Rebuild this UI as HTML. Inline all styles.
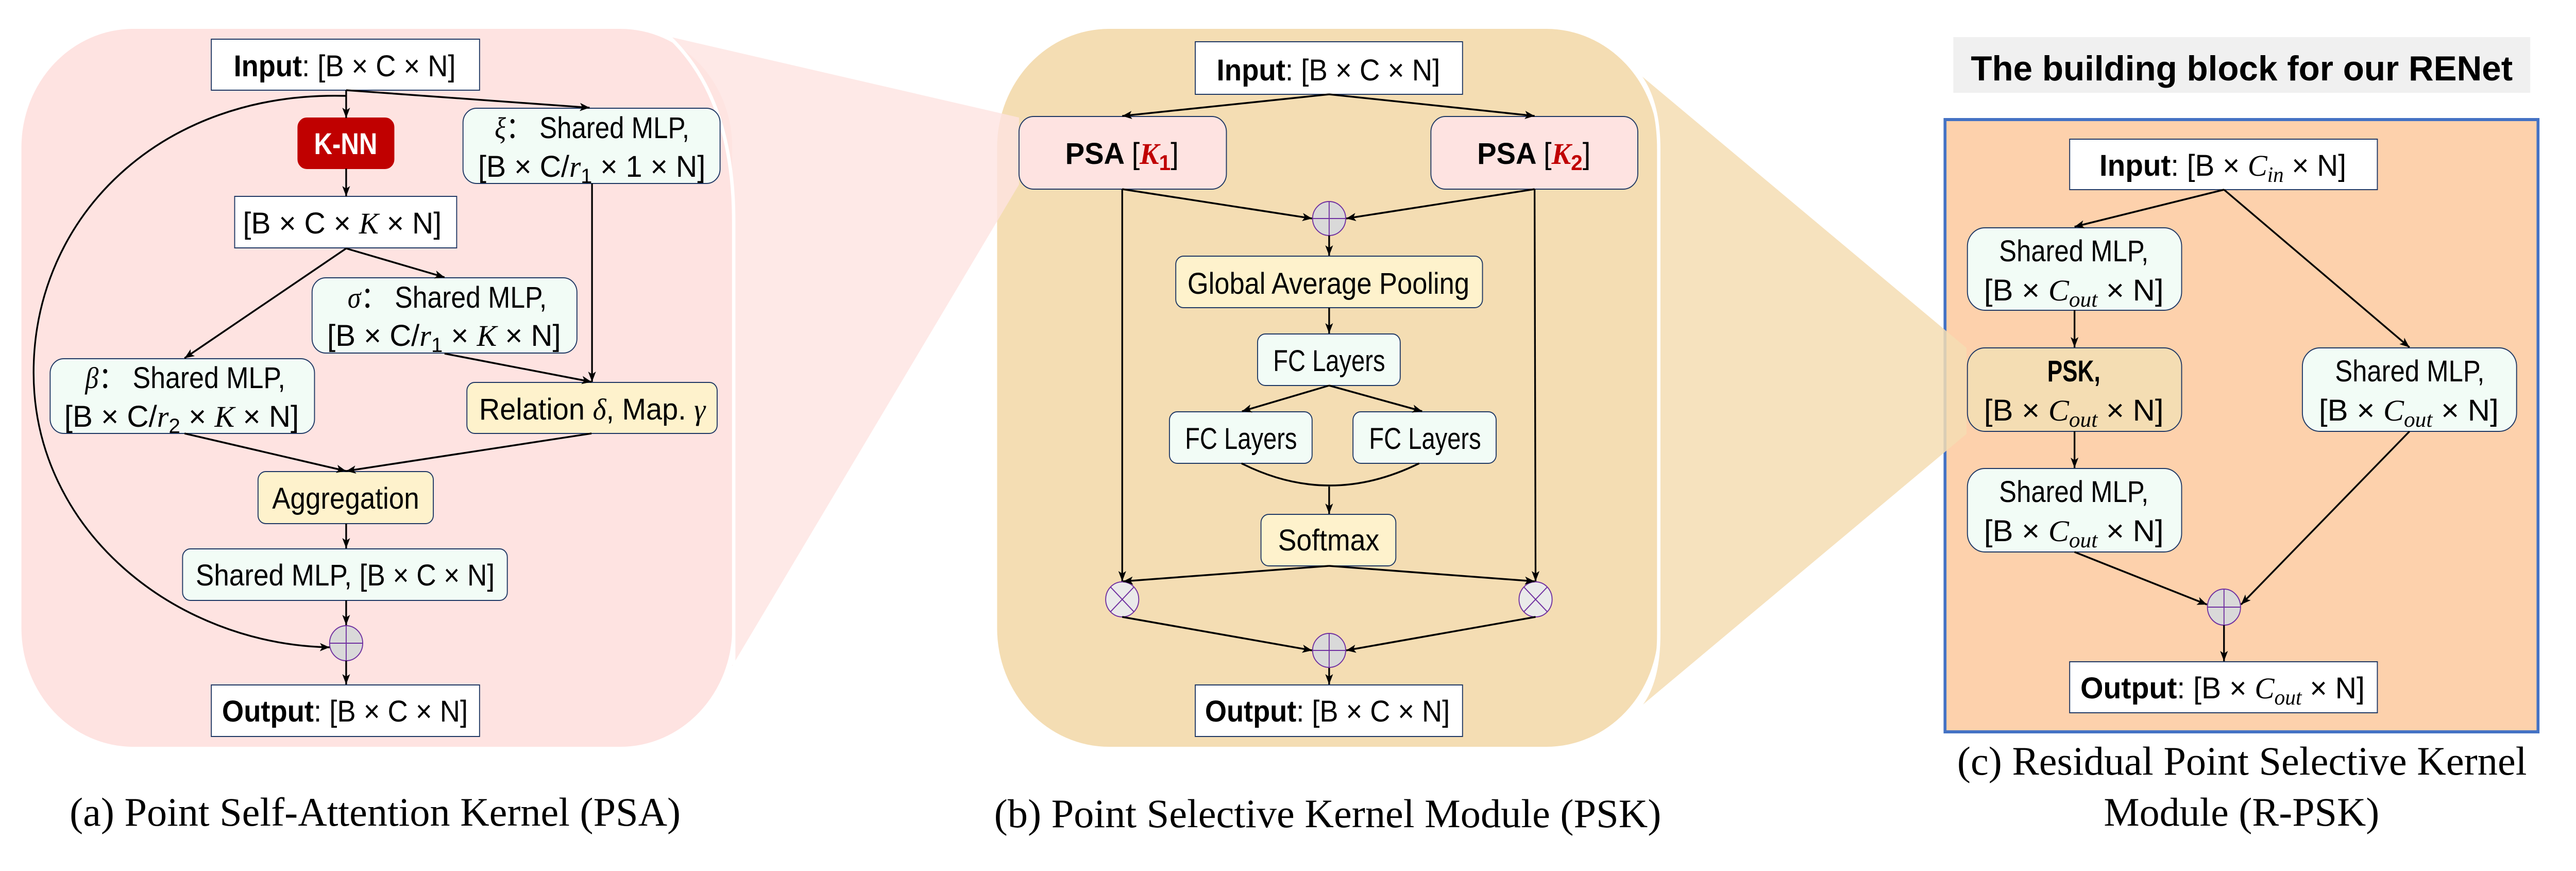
<!DOCTYPE html>
<html><head><meta charset="utf-8"><style>
html,body{margin:0;padding:0;background:#fff;overflow:hidden;width:100%;height:100%;}
svg{display:block;width:100vw;height:100vh;}
text{font-family:"Liberation Sans",sans-serif;fill:#000;}
.m{font-family:"Liberation Serif",serif;font-style:italic;}
.cap{font-family:"Liberation Serif",serif;}
</style></head><body>
<svg viewBox="0 0 5291 1690" preserveAspectRatio="none" xmlns="http://www.w3.org/2000/svg">
<defs>
<marker id="a" markerUnits="userSpaceOnUse" markerWidth="22" markerHeight="18" refX="20" refY="9" orient="auto">
<path d="M0,1 L20,9 L0,17 L5,9 Z" fill="#000"/></marker>
</defs>

<!-- Panel a -->
<rect x="44" y="56" width="1460" height="1393" rx="230" ry="230" fill="#fee3e1"/>
<!-- Panel b -->
<rect x="2048" y="56" width="1358" height="1393" rx="230" ry="230" fill="#f4ddb3"/>
<!-- Panel c -->
<rect x="4012" y="72" width="1185" height="108" fill="#f0f0f0"/>
<text x="4048" y="156" font-size="68" font-weight="bold" textLength="1113" lengthAdjust="spacingAndGlyphs">The building block for our RENet</text>
<rect x="3995" y="232" width="1218" height="1188" fill="#fdd1ac" stroke="#4472c4" stroke-width="6"/>

<!-- pink zoom trapezoid -->
<path d="M1374,71 L2093,228 L2093,358 L1504,1292 L1507,430 Q1507,190 1374,71 Z" fill="#fee3e1" fill-opacity="0.8"/>
<path d="M1374,71 Q1507,190 1507,430 L1507,1290" fill="none" stroke="#fff" stroke-width="7"/>
<!-- tan zoom trapezoid -->
<path d="M3361,139 L4039,675 L4039,842 L3343,1392 Q3407,1350 3407,1230 L3407,290 Q3407,190 3361,139 Z" fill="#f4ddb3" fill-opacity="0.85"/>
<path d="M3361,139 Q3407,190 3407,290 L3407,1230 Q3407,1350 3343,1392" fill="none" stroke="#fff" stroke-width="7"/>

<g stroke="#1f3864" stroke-width="2">
<rect x="434" y="76" width="551" height="99" fill="#fff"/>
<rect x="612" y="229" width="197" height="98" rx="18" fill="#c00000" stroke="#c00000"/>
<rect x="482" y="381" width="456" height="100" fill="#fff"/>
<rect x="951" y="210" width="528" height="146" rx="28" fill="#f2fcf6"/>
<rect x="641" y="539" width="544" height="146" rx="28" fill="#f2fcf6"/>
<rect x="103" y="696" width="543" height="145" rx="28" fill="#f2fcf6"/>
<rect x="959" y="742" width="514" height="99" rx="16" fill="#fef2cc"/>
<rect x="530" y="915" width="360" height="101" rx="16" fill="#fef2cc"/>
<rect x="375" y="1065" width="667" height="100" rx="16" fill="#f2fcf6"/>
<rect x="434" y="1329" width="551" height="100" fill="#fff"/>
<rect x="2455" y="81" width="549" height="102" fill="#fff"/>
<rect x="2093" y="226" width="426" height="141" rx="30" fill="#fee3e1"/>
<rect x="2939" y="226" width="425" height="141" rx="30" fill="#fee3e1"/>
<rect x="2415" y="497" width="630" height="100" rx="16" fill="#fef2cc"/>
<rect x="2583" y="648" width="293" height="100" rx="16" fill="#f2fcf6"/>
<rect x="2402" y="799" width="293" height="100" rx="16" fill="#f2fcf6"/>
<rect x="2779" y="799" width="294" height="100" rx="16" fill="#f2fcf6"/>
<rect x="2590" y="998" width="277" height="100" rx="16" fill="#fef2cc"/>
<rect x="2455" y="1329" width="549" height="100" fill="#fff"/>
<rect x="4251" y="270" width="632" height="98" fill="#fff"/>
<rect x="4041" y="442" width="440" height="160" rx="36" fill="#f2fcf6"/>
<rect x="4041" y="675" width="440" height="162" rx="36" fill="#f4ddb3"/>
<rect x="4041" y="909" width="440" height="162" rx="36" fill="#f2fcf6"/>
<rect x="4729" y="675" width="440" height="162" rx="36" fill="#f2fcf6"/>
<rect x="4251" y="1284" width="632" height="99" fill="#fff"/>
</g>

<g stroke="#7030a0" stroke-width="2">
<ellipse cx="711" cy="1248" rx="34" ry="34" fill="#d9d9d9"/>
<line x1="677" y1="1248" x2="745" y2="1248"/><line x1="711" y1="1214" x2="711" y2="1282"/>
<ellipse cx="2730" cy="424" rx="34" ry="33" fill="#d9d9d9"/>
<line x1="2696" y1="424" x2="2764" y2="424"/><line x1="2730" y1="391" x2="2730" y2="457"/>
<ellipse cx="2730" cy="1262" rx="34" ry="33" fill="#d9d9d9"/>
<line x1="2696" y1="1262" x2="2764" y2="1262"/><line x1="2730" y1="1229" x2="2730" y2="1295"/>
<ellipse cx="2305" cy="1163" rx="34" ry="34" fill="#eaeaea"/>
<line x1="2281" y1="1139" x2="2329" y2="1187"/><line x1="2329" y1="1139" x2="2281" y2="1187"/>
<ellipse cx="3154" cy="1163" rx="34" ry="34" fill="#eaeaea"/>
<line x1="3130" y1="1139" x2="3178" y2="1187"/><line x1="3178" y1="1139" x2="3130" y2="1187"/>
<ellipse cx="4568" cy="1178" rx="34" ry="35" fill="#d9d9d9"/>
<line x1="4534" y1="1178" x2="4602" y2="1178"/><line x1="4568" y1="1143" x2="4568" y2="1213"/>
</g>

<g stroke="#000" stroke-width="3.5" fill="none" marker-end="url(#a)">
<line x1="711" y1="175" x2="711" y2="229"/>
<line x1="711" y1="175" x2="1211" y2="209"/>
<path d="M711,186 C330,176 69,420 69,723 C69,1030 360,1250 677,1256"/>
<line x1="711" y1="327" x2="711" y2="381"/>
<line x1="711" y1="482" x2="379" y2="695"/>
<line x1="711" y1="482" x2="913" y2="538"/>
<line x1="1216" y1="356" x2="1216" y2="741"/>
<line x1="913" y1="686" x2="1215" y2="741"/>
<line x1="379" y1="841" x2="711" y2="914"/>
<line x1="1215" y1="841" x2="711" y2="914"/>
<line x1="711" y1="1016" x2="711" y2="1064"/>
<line x1="711" y1="1165" x2="711" y2="1213"/>
<line x1="711" y1="1282" x2="711" y2="1328"/>

<line x1="2730" y1="183" x2="2305" y2="225"/>
<line x1="2730" y1="183" x2="3152" y2="225"/>
<line x1="2305" y1="367" x2="2695" y2="424"/>
<line x1="3152" y1="367" x2="2765" y2="424"/>
<line x1="2305" y1="367" x2="2305" y2="1128"/>
<line x1="3152" y1="367" x2="3154" y2="1128"/>
<line x1="2730" y1="457" x2="2730" y2="496"/>
<line x1="2730" y1="597" x2="2730" y2="647"/>
<line x1="2730" y1="748" x2="2551" y2="798"/>
<line x1="2730" y1="748" x2="2921" y2="798"/>
<line x1="2730" y1="944" x2="2730" y2="997"/>
<line x1="2730" y1="1098" x2="2307" y2="1128"/>
<line x1="2730" y1="1098" x2="3152" y2="1128"/>
<line x1="2305" y1="1197" x2="2695" y2="1262"/>
<line x1="3154" y1="1197" x2="2765" y2="1262"/>
<line x1="2730" y1="1296" x2="2730" y2="1328"/>

<line x1="4568" y1="368" x2="4261" y2="440"/>
<line x1="4568" y1="368" x2="4949" y2="674"/>
<line x1="4261" y1="602" x2="4261" y2="674"/>
<line x1="4261" y1="837" x2="4261" y2="908"/>
<line x1="4261" y1="1071" x2="4533" y2="1173"/>
<line x1="4949" y1="837" x2="4603" y2="1173"/>
<line x1="4568" y1="1213" x2="4568" y2="1283"/>
</g>
<path d="M2550,899 Q2730,985 2915,899" stroke="#000" stroke-width="3.5" fill="none"/>

<g font-size="58">
<text x="480" y="148" textLength="456" lengthAdjust="spacingAndGlyphs"><tspan font-weight="bold">Input</tspan>: [B × C × N]</text>
<text x="645" y="299" textLength="130" lengthAdjust="spacingAndGlyphs" font-weight="bold" style="fill:#fff">K-NN</text>
<text x="499" y="453" textLength="408" lengthAdjust="spacingAndGlyphs">[B × C × <tspan class="m">K</tspan> × N]</text>
<text x="1016" y="268" textLength="400" lengthAdjust="spacingAndGlyphs"><tspan class="m">ξ</tspan>：  Shared MLP,</text>
<text x="982" y="343" textLength="467" lengthAdjust="spacingAndGlyphs">[B × C/<tspan class="m">r</tspan><tspan font-size="40" dy="12">1</tspan><tspan dy="-12"> × 1 × N]</tspan></text>
<text x="714" y="597" textLength="409" lengthAdjust="spacingAndGlyphs"><tspan class="m">σ</tspan>：  Shared MLP,</text>
<text x="672" y="671" textLength="480" lengthAdjust="spacingAndGlyphs">[B × C/<tspan class="m">r</tspan><tspan font-size="40" dy="12">1</tspan><tspan dy="-12"> × </tspan><tspan class="m">K</tspan> × N]</text>
<text x="175" y="753" textLength="411" lengthAdjust="spacingAndGlyphs"><tspan class="m">β</tspan>：  Shared MLP,</text>
<text x="132" y="828" textLength="482" lengthAdjust="spacingAndGlyphs">[B × C/<tspan class="m">r</tspan><tspan font-size="40" dy="12">2</tspan><tspan dy="-12"> × </tspan><tspan class="m">K</tspan> × N]</text>
<text x="984" y="814" textLength="465" lengthAdjust="spacingAndGlyphs">Relation <tspan class="m">δ</tspan>, Map. <tspan class="m">γ</tspan></text>
<text x="559" y="987" textLength="302" lengthAdjust="spacingAndGlyphs">Aggregation</text>
<text x="402" y="1136" textLength="614" lengthAdjust="spacingAndGlyphs">Shared MLP, [B × C × N]</text>
<text x="456" y="1400" textLength="505" lengthAdjust="spacingAndGlyphs"><tspan font-weight="bold">Output</tspan>: [B × C × N]</text>
</g>

<g font-size="58">
<text x="2499" y="156" textLength="459" lengthAdjust="spacingAndGlyphs"><tspan font-weight="bold">Input</tspan>: [B × C × N]</text>
<text x="2188" y="318" textLength="233" lengthAdjust="spacingAndGlyphs"><tspan font-weight="bold">PSA </tspan>[<tspan class="m" font-weight="bold" style="fill:#c00000">K</tspan><tspan font-weight="bold" font-size="42" dy="12" style="fill:#c00000">1</tspan><tspan dy="-12">]</tspan></text>
<text x="3034" y="318" textLength="233" lengthAdjust="spacingAndGlyphs"><tspan font-weight="bold">PSA </tspan>[<tspan class="m" font-weight="bold" style="fill:#c00000">K</tspan><tspan font-weight="bold" font-size="42" dy="12" style="fill:#c00000">2</tspan><tspan dy="-12">]</tspan></text>
<text x="2439" y="570" textLength="579" lengthAdjust="spacingAndGlyphs">Global Average Pooling</text>
<text x="2615" y="720" textLength="230" lengthAdjust="spacingAndGlyphs">FC Layers</text>
<text x="2434" y="871" textLength="230" lengthAdjust="spacingAndGlyphs">FC Layers</text>
<text x="2812" y="871" textLength="230" lengthAdjust="spacingAndGlyphs">FC Layers</text>
<text x="2625" y="1068" textLength="208" lengthAdjust="spacingAndGlyphs">Softmax</text>
<text x="2475" y="1400" textLength="503" lengthAdjust="spacingAndGlyphs"><tspan font-weight="bold">Output</tspan>: [B × C × N]</text>
</g>

<g font-size="58">
<text x="4312" y="341" textLength="507" lengthAdjust="spacingAndGlyphs"><tspan font-weight="bold">Input</tspan>: [B × <tspan class="m">C</tspan><tspan class="m" font-size="42" dy="12">in</tspan><tspan dy="-12"> × N]</tspan></text>
<text x="4106" y="507" textLength="307" lengthAdjust="spacingAndGlyphs">Shared MLP,</text>
<text x="4075" y="583" textLength="369" lengthAdjust="spacingAndGlyphs">[B × <tspan class="m">C</tspan><tspan class="m" font-size="42" dy="12">out</tspan><tspan dy="-12"> × N]</tspan></text>
<text x="4205" y="740" textLength="109" lengthAdjust="spacingAndGlyphs" font-weight="bold">PSK,</text>
<text x="4075" y="816" textLength="369" lengthAdjust="spacingAndGlyphs">[B × <tspan class="m">C</tspan><tspan class="m" font-size="42" dy="12">out</tspan><tspan dy="-12"> × N]</tspan></text>
<text x="4106" y="974" textLength="307" lengthAdjust="spacingAndGlyphs">Shared MLP,</text>
<text x="4075" y="1050" textLength="369" lengthAdjust="spacingAndGlyphs">[B × <tspan class="m">C</tspan><tspan class="m" font-size="42" dy="12">out</tspan><tspan dy="-12"> × N]</tspan></text>
<text x="4796" y="740" textLength="307" lengthAdjust="spacingAndGlyphs">Shared MLP,</text>
<text x="4763" y="816" textLength="369" lengthAdjust="spacingAndGlyphs">[B × <tspan class="m">C</tspan><tspan class="m" font-size="42" dy="12">out</tspan><tspan dy="-12"> × N]</tspan></text>
<text x="4273" y="1355" textLength="584" lengthAdjust="spacingAndGlyphs"><tspan font-weight="bold">Output</tspan>: [B × <tspan class="m">C</tspan><tspan class="m" font-size="42" dy="12">out</tspan><tspan dy="-12"> × N]</tspan></text>
</g>

<g font-size="78">
<text class="cap" x="143" y="1602" textLength="1255" lengthAdjust="spacingAndGlyphs">(a) Point Self-Attention Kernel (PSA)</text>
<text class="cap" x="2042" y="1605" textLength="1370" lengthAdjust="spacingAndGlyphs">(b) Point Selective Kernel Module (PSK)</text>
<text class="cap" x="4020" y="1503" textLength="1170" lengthAdjust="spacingAndGlyphs">(c) Residual Point Selective Kernel</text>
<text class="cap" x="4321" y="1602" textLength="566" lengthAdjust="spacingAndGlyphs">Module (R-PSK)</text>
</g>
</svg>
</body></html>
